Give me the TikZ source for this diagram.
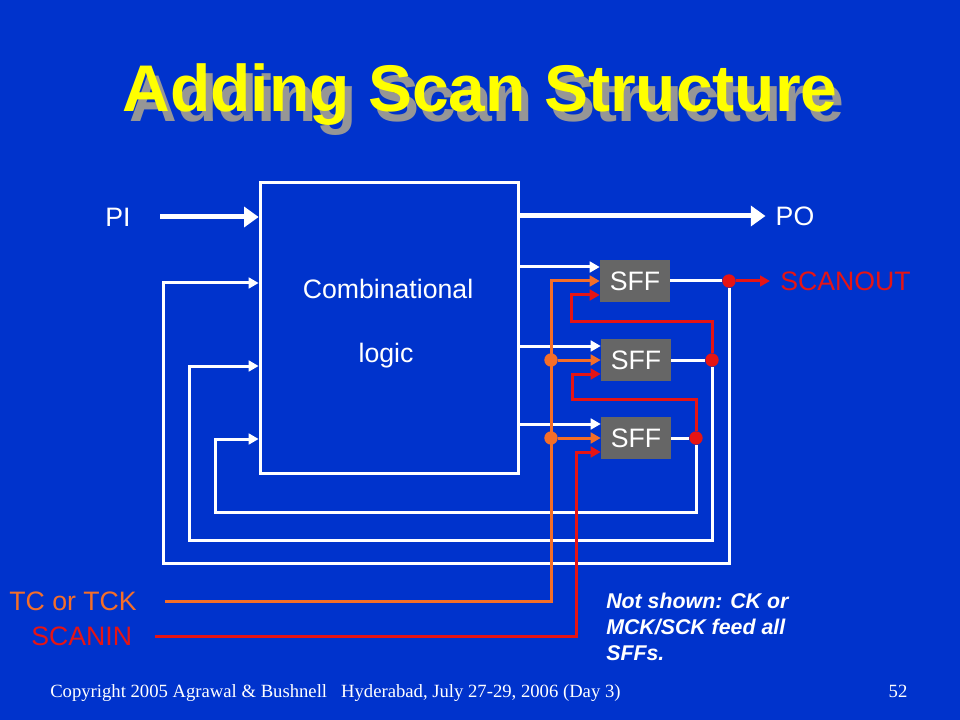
\documentclass[tikz,border=0pt]{standalone}
\usepackage{fontspec}
\setmainfont{Liberation Sans}
\newfontfamily\footfont{Liberation Serif}
\usetikzlibrary{arrows.meta, positioning}
\definecolor{slideblue}{RGB}{0,51,204}
\definecolor{tcorange}{RGB}{245,110,40}
\definecolor{scanred}{RGB}{230,20,20}
\definecolor{sffgray}{RGB}{102,102,102}
\definecolor{titleyellow}{RGB}{255,255,0}
\definecolor{shadowgray}{RGB}{150,150,150}

\begin{document}
\begin{tikzpicture}[
  x=0.75pt, y=-0.75pt,
  comb/.style     = {draw=white, line width=2.25pt, minimum width=194pt,
                     minimum height=217.5pt, inner sep=0pt},
  sffbox/.style   = {fill=sffgray, minimum width=52.5pt, minimum height=31.5pt,
                     inner sep=0pt, text=white, font=\fontsize{20}{24}\selectfont},
  wire/.style     = {draw=white, line width=2.25pt},
  ckline/.style   = {draw=tcorange, line width=2.25pt},
  scanline/.style = {draw=scanred, line width=2.25pt},
  sarrow/.style   = {-{Triangle[length=7.5pt,width=8pt]}},
  barrow/.style   = {line width=3.75pt, -{Triangle[length=11pt,width=15pt]}},
  jdot/.style     = {circle, inner sep=0pt, minimum size=10pt},
  lbl/.style      = {font=\fontsize{20}{24}\selectfont, inner sep=0pt},
  heading/.style  = {font=\bfseries\fontsize{49.5}{55}\selectfont, inner sep=0pt, anchor=base},
]

% Slide background
\fill[slideblue] (0,0) rectangle (960,720);

% Title with shadow
\node[heading, text=shadowgray]  (shadow) at (487,122) {Adding Scan Structure};
\node[heading, text=titleyellow] (title)  at (480,112) {Adding Scan Structure};

% Combinational block and scan flip-flops
\node[comb] (comb) at (389.5,328) {};
\node[lbl, text=white, anchor=base] (combtxt)  at (388,299) {Combinational};
\node[lbl, text=white, anchor=base] (logictxt) at (386,362) {logic};

\node[sffbox] (sff1) at (635,281) {SFF};
\node[sffbox] (sff2) at (636,360) {SFF};
\node[sffbox] (sff3) at (636,438) {SFF};

% Primary inputs / outputs
\node[lbl, text=white] (pi) at (118,217) {PI};
\node[lbl, text=white] (po) at (795,216) {PO};
\draw[wire, barrow] ([xshift=22pt]pi.east) -- (comb.west |- pi);
\draw[wire, barrow] (comb.east |- po) -- ([xshift=-7.5pt]po.west);

% Pins on the flip-flops
\foreach \i in {1,2,3} {
  \coordinate (w\i) at ([yshift=10.5pt]sff\i.west);
  \coordinate (s\i) at ([yshift=-10.5pt]sff\i.west);
  \draw[wire, sarrow] (w\i -| comb.east) -- (w\i);
}

% Output junctions
\node[jdot, fill=scanred] (d1) at (729,281) {};
\node[jdot, fill=scanred] (d2) at (712,360) {};
\node[jdot, fill=scanred] (d3) at (696,438) {};
\draw[wire] (sff1.east) -- (d1);
\draw[wire] (sff2.east) -- (d2);
\draw[wire] (sff3.east) -- (d3);

% Feedback loops back into the logic
\coordinate (l1) at (163,563);  \coordinate (u1) at (163,283);
\coordinate (l2) at (189,540);  \coordinate (u2) at (189,366);
\coordinate (l3) at (215,512);  \coordinate (u3) at (215,439);
\draw[wire, sarrow] (d1) |- (l1) -- (u1) -- (u1 -| comb.west);
\draw[wire, sarrow] (d2) |- (l2) -- (u2) -- (u2 -| comb.west);
\draw[wire, sarrow] (d3) |- (l3) -- (u3) -- (u3 -| comb.west);

% Test control
\coordinate (tcstart) at (165,601);
\coordinate (tc) at (551,601);
\node[lbl, text=tcorange, left=21pt of tcstart] (tclbl) {TC or TCK};
\draw[ckline, sarrow] (tcstart) -- (tc) |- (sff1.west);
\foreach \i in {2,3} {
  \node[jdot, fill=tcorange] (o\i) at (tc |- sff\i.west) {};
  \draw[ckline, sarrow] (o\i) -- (sff\i.west);
}

% Scan chain
\coordinate (sistart) at (155,636);
\coordinate (si) at (576,636);
\node[lbl, text=scanred, left=17pt of sistart] (silbl) {SCANIN};
\draw[scanline, sarrow] (sistart) -- (si) |- (s3);
\coordinate (r2) at (572,399);
\draw[scanline, sarrow] (d3) |- (r2) |- (s2);
\coordinate (r1) at (571,321);
\draw[scanline, sarrow] (d2) |- (r1) |- (s1);
\coordinate (soend) at (770,281);
\draw[scanline, sarrow] (d1) -- (soend);
\node[lbl, text=scanred, right=7.5pt of soend] (solbl) {SCANOUT};

% Note
\node[anchor=north west, align=left, text=white, inner sep=0pt,
      font=\bfseries\itshape\fontsize{16}{19.5}\selectfont] (note) at (606,593)
  {Not shown: CK or\\MCK/SCK feed all\\SFFs.};

% Footer
\node[anchor=base west, text=white, inner sep=0pt,
      font=\footfont\fontsize{14}{16}\selectfont] (copy) at (50,697)
  {Copyright 2005 Agrawal \& Bushnell\ \ \ Hyderabad, July 27-29, 2006 (Day 3)};
\node[anchor=base, text=white, inner sep=0pt,
      font=\footfont\fontsize{14}{16}\selectfont] (pagenum) at (898,697) {52};

\end{tikzpicture}
\end{document}
